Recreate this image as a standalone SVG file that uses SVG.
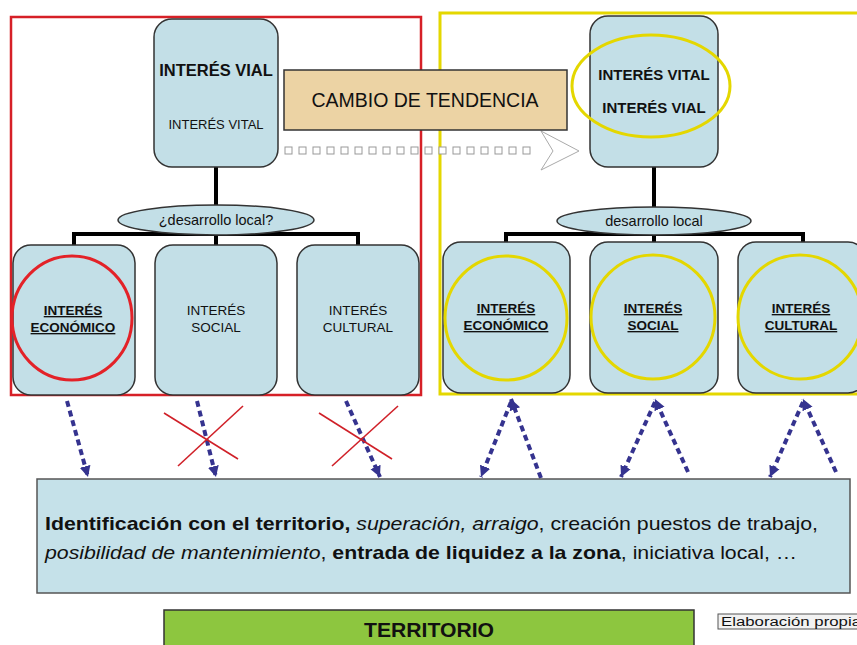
<svg xmlns="http://www.w3.org/2000/svg" width="857" height="645" viewBox="0 0 857 645">
<defs>
<style>
text{font-family:"Liberation Sans",Arial,sans-serif;fill:#111}
.node{fill:#c3dfe7;stroke:#333;stroke-width:1.5}
.tree{fill:none;stroke:#000;stroke-width:4}
.dash{fill:none;stroke:#35338f;stroke-width:4;stroke-dasharray:6 4}
.x{stroke:#d02028;stroke-width:1.6}
.b{font-weight:bold}
.u{text-decoration:underline}
.sq{fill:#fff;stroke:#999;stroke-width:1}
</style>
<marker id="ah" viewBox="0 0 10 10" refX="10" refY="5" markerWidth="11" markerHeight="13" markerUnits="userSpaceOnUse" orient="auto">
<path d="M0,0 L10,5 L0,10 z" fill="#35338f"/>
</marker>
</defs>
<rect width="857" height="645" fill="#fff"/>

<g id="frames">
<rect x="11" y="17" width="410" height="378" fill="none" stroke="#d62027" stroke-width="2.5"/>
<rect x="440" y="13" width="430" height="381" fill="none" stroke="#e4d700" stroke-width="3"/>
</g>

<g id="connectors">
<line class="tree" x1="216" y1="167" x2="216" y2="210"/>
<polyline class="tree" points="74,246 74,234 358,234 358,246"/>
<line class="tree" x1="216" y1="230" x2="216" y2="246"/>
<line class="tree" x1="654" y1="167" x2="654" y2="210"/>
<polyline class="tree" points="506,243 506,234 803,234 803,243"/>
<line class="tree" x1="654" y1="230" x2="654" y2="243"/>

<line class="dash" x1="67" y1="401" x2="88" y2="477" marker-end="url(#ah)"/>
<line class="dash" x1="197" y1="401" x2="216" y2="477" marker-end="url(#ah)"/>
<line class="dash" x1="346" y1="401" x2="380" y2="477" marker-end="url(#ah)"/>
<line class="dash" x1="511" y1="402" x2="481" y2="477" marker-end="url(#ah)"/>
<line class="dash" x1="541" y1="478" x2="511" y2="399" marker-end="url(#ah)"/>
<line class="dash" x1="655" y1="402" x2="621" y2="477" marker-end="url(#ah)"/>
<line class="dash" x1="688" y1="472" x2="655" y2="399" marker-end="url(#ah)"/>
<line class="dash" x1="803" y1="402" x2="770" y2="477" marker-end="url(#ah)"/>
<line class="dash" x1="836" y1="472" x2="803" y2="399" marker-end="url(#ah)"/>

<g id="cambio-arrow">
<rect class="sq" x="285" y="147" width="7" height="7"/>
<rect class="sq" x="299" y="147" width="7" height="7"/>
<rect class="sq" x="313" y="147" width="7" height="7"/>
<rect class="sq" x="327" y="147" width="7" height="7"/>
<rect class="sq" x="341" y="147" width="7" height="7"/>
<rect class="sq" x="355" y="147" width="7" height="7"/>
<rect class="sq" x="369" y="147" width="7" height="7"/>
<rect class="sq" x="383" y="147" width="7" height="7"/>
<rect class="sq" x="397" y="147" width="7" height="7"/>
<rect class="sq" x="411" y="147" width="7" height="7"/>
<rect class="sq" x="425" y="147" width="7" height="7"/>
<rect class="sq" x="439" y="147" width="7" height="7"/>
<rect class="sq" x="453" y="147" width="7" height="7"/>
<rect class="sq" x="467" y="147" width="7" height="7"/>
<rect class="sq" x="481" y="147" width="7" height="7"/>
<rect class="sq" x="495" y="147" width="7" height="7"/>
<rect class="sq" x="509" y="147" width="7" height="7"/>
<rect class="sq" x="523" y="147" width="7" height="7"/>
<polygon points="541,131 579,151 541,170 553,151" fill="#fff" stroke="#aaa" stroke-width="1"/>
</g>
</g>

<g id="cross1">
<line class="x" x1="164" y1="413" x2="238" y2="459"/>
<line class="x" x1="243" y1="406" x2="178" y2="466"/>
</g>
<g id="cross2">
<line class="x" x1="319" y1="413" x2="392" y2="459"/>
<line class="x" x1="398" y1="406" x2="332" y2="466"/>
</g>

<g id="node-vial-left">
<rect class="node" x="154" y="19" width="124" height="148" rx="18"/>
<text x="216" y="76" text-anchor="middle" class="b" font-size="16.5">INTERÉS VIAL</text>
<text x="216" y="129" text-anchor="middle" font-size="13">INTERÉS VITAL</text>
</g>

<g id="cambio">
<rect x="284" y="70" width="283" height="60" fill="#ecd3a4" stroke="#333" stroke-width="1.5"/>
<text x="425" y="107" text-anchor="middle" font-size="19.5">CAMBIO DE TENDENCIA</text>
</g>

<g id="node-vital-right">
<rect class="node" x="590" y="16" width="128" height="151" rx="18"/>
<text x="654" y="80" text-anchor="middle" class="b" font-size="15">INTERÉS VITAL</text>
<text x="654" y="113" text-anchor="middle" class="b" font-size="15">INTERÉS VIAL</text>
<ellipse cx="651" cy="86" rx="79" ry="51" fill="none" stroke="#e4d700" stroke-width="3"/>
</g>

<g id="ellipse-left">
<ellipse class="node" cx="216" cy="220" rx="98" ry="15"/>
<text x="216" y="225" text-anchor="middle" font-size="14.5">¿desarrollo local?</text>
</g>
<g id="ellipse-right">
<ellipse class="node" cx="654" cy="221" rx="97" ry="14"/>
<text x="654" y="226" text-anchor="middle" font-size="14.5">desarrollo local</text>
</g>

<g id="node-eco-left">
<rect class="node" x="13" y="245" width="122" height="150" rx="18"/>
<text x="73" y="315" text-anchor="middle" class="b u" font-size="13.5">INTERÉS</text>
<text x="73" y="332" text-anchor="middle" class="b u" font-size="13.5">ECONÓMICO</text>
<ellipse cx="72" cy="318" rx="60" ry="62" fill="none" stroke="#e32228" stroke-width="3"/>
</g>
<g id="node-soc-left">
<rect class="node" x="155" y="245" width="122" height="150" rx="18"/>
<text x="216" y="315" text-anchor="middle" font-size="13.5">INTERÉS</text>
<text x="216" y="332" text-anchor="middle" font-size="13.5">SOCIAL</text>
</g>
<g id="node-cul-left">
<rect class="node" x="297" y="245" width="122" height="150" rx="18"/>
<text x="358" y="315" text-anchor="middle" font-size="13.5">INTERÉS</text>
<text x="358" y="332" text-anchor="middle" font-size="13.5">CULTURAL</text>
</g>

<g id="node-eco-right">
<rect class="node" x="443" y="242" width="127" height="151" rx="18"/>
<text x="506" y="313" text-anchor="middle" class="b u" font-size="13.5">INTERÉS</text>
<text x="506" y="330" text-anchor="middle" class="b u" font-size="13.5">ECONÓMICO</text>
<ellipse cx="506" cy="318" rx="61" ry="62" fill="none" stroke="#e4d700" stroke-width="3"/>
</g>
<g id="node-soc-right">
<rect class="node" x="590" y="242" width="128" height="151" rx="18"/>
<text x="653" y="313" text-anchor="middle" class="b u" font-size="13.5">INTERÉS</text>
<text x="653" y="330" text-anchor="middle" class="b u" font-size="13.5">SOCIAL</text>
<ellipse cx="653" cy="317" rx="62" ry="62" fill="none" stroke="#e4d700" stroke-width="3"/>
</g>
<g id="node-cul-right">
<rect class="node" x="738" y="242" width="128" height="151" rx="18"/>
<text x="801" y="313" text-anchor="middle" class="b u" font-size="13.5">INTERÉS</text>
<text x="801" y="330" text-anchor="middle" class="b u" font-size="13.5">CULTURAL</text>
<ellipse cx="800" cy="317" rx="62" ry="62" fill="none" stroke="#e4d700" stroke-width="3"/>
</g>

<g id="factors">
<rect x="37" y="479" width="813" height="114" fill="#c5e1e9" stroke="#555" stroke-width="1.5"/>
<text x="45" y="530" font-size="18.5" textLength="773" lengthAdjust="spacingAndGlyphs"><tspan class="b">Identificación con el territorio,</tspan><tspan font-style="italic"> superación, arraigo</tspan>, creación puestos de trabajo,</text>
<text x="45" y="559" font-size="18.5" textLength="752" lengthAdjust="spacingAndGlyphs"><tspan font-style="italic">posibilidad  de mantenimiento</tspan>, <tspan class="b">entrada de liquidez a la zona</tspan>, iniciativa local, …</text>
</g>

<g id="territorio">
<rect x="164" y="610" width="530" height="45" fill="#8dc63f" stroke="#333" stroke-width="1.5"/>
<text x="429" y="637" text-anchor="middle" class="b" font-size="21" textLength="130" lengthAdjust="spacingAndGlyphs">TERRITORIO</text>
</g>

<g id="source">
<rect x="718" y="614" width="150" height="15" fill="#f2f2f2" stroke="#555" stroke-width="1"/>
<text x="721" y="626" font-size="12.5" textLength="140" lengthAdjust="spacingAndGlyphs">Elaboración propia</text>
</g>
</svg>
